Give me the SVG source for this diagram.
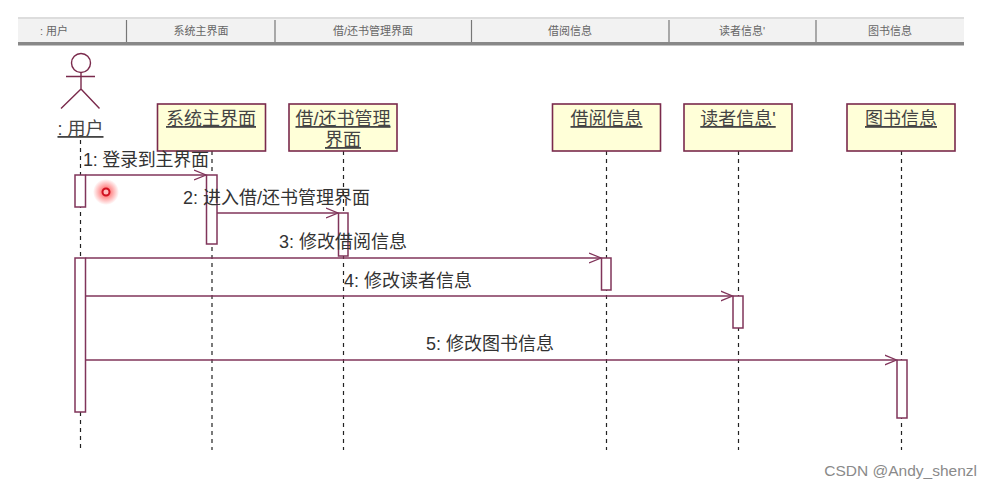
<svg xmlns="http://www.w3.org/2000/svg" width="991" height="489" viewBox="0 0 991 489">
<defs>
<marker id="arr" markerWidth="14" markerHeight="12" refX="12" refY="6" orient="auto" markerUnits="userSpaceOnUse"><path d="M0 1L12 6L0 11" fill="none" stroke="#80345a" stroke-width="1.3"/></marker>
<radialGradient id="glow"><stop offset="0.25" stop-color="#f55" stop-opacity=".8"/><stop offset="1" stop-color="#f55" stop-opacity="0"/></radialGradient>
</defs>
<style>
text{font-family:"Liberation Sans","Noto Sans CJK SC",sans-serif}
.h{font-size:11px;fill:#666;text-anchor:middle}
.n{font-size:18px;fill:#444;text-anchor:middle;text-decoration:underline}
.m{font-size:18px;fill:#333}
.box{fill:#ffffd8;stroke:#7a2a4c;stroke-width:1.6}
.act{fill:#fff;stroke:#80345a;stroke-width:1.5}
.life{stroke:#222;stroke-width:1.2;stroke-dasharray:4 4;fill:none}
.msg{stroke:#80345a;stroke-width:1.4;fill:none;marker-end:url(#arr)}
.sep{stroke:#777;stroke-width:1.2}
.fig{stroke:#7a2a4c;stroke-width:1.4;fill:none}
</style>
<rect width="991" height="489" fill="#fff"/>
<g id="header">
<rect x="18" y="18" width="946" height="24" fill="#f2f2f2"/>
<rect x="18" y="17" width="946" height="2" fill="#ddd"/>
<rect x="18" y="42" width="946" height="3.5" fill="#888"/>
<line class="sep" x1="126.500" y1="20" x2="126.500" y2="42"/>
<line class="sep" x1="275" y1="20" x2="275" y2="42"/>
<line class="sep" x1="471.500" y1="20" x2="471.500" y2="42"/>
<line class="sep" x1="669" y1="20" x2="669" y2="42"/>
<line class="sep" x1="816" y1="20" x2="816" y2="42"/>
<text class="h" x="54" y="35">: 用户</text>
<text class="h" x="201" y="35">系统主界面</text>
<text class="h" x="373" y="35">借/还书管理界面</text>
<text class="h" x="570" y="35">借阅信息</text>
<text class="h" x="742" y="35">读者信息'</text>
<text class="h" x="890" y="35">图书信息</text>
</g>
<g id="connectors">
<line class="life" x1="80.500" y1="140" x2="80.500" y2="450"/>
<line class="life" x1="212" y1="151" x2="212" y2="450"/>
<line class="life" x1="343.500" y1="151" x2="343.500" y2="450"/>
<line class="life" x1="606.500" y1="151" x2="606.500" y2="450"/>
<line class="life" x1="738.500" y1="151" x2="738.500" y2="450"/>
<line class="life" x1="901.500" y1="151" x2="901.500" y2="450"/>
</g>
<g id="actor-user">
<circle class="fig" cx="81" cy="63" r="9.500"/>
<path class="fig" d="M66 76.500H95M81 72.500V89M81 89L61 108.500M81 89L99.500 108.500"/>
<text class="n" x="80.500" y="135">: 用户</text>
</g>
<g id="node-main"><rect class="box" x="157.500" y="104" width="108" height="47"/><text class="n" x="211" y="125">系统主界面</text></g>
<g id="node-manage"><rect class="box" x="289" y="104" width="108" height="47"/><text class="n" x="343" y="125">借/还书管理</text><text class="n" x="343" y="146">界面</text></g>
<g id="node-borrow"><rect class="box" x="552.500" y="104" width="108" height="47"/><text class="n" x="606.500" y="125">借阅信息</text></g>
<g id="node-reader"><rect class="box" x="684" y="104" width="108" height="47"/><text class="n" x="738" y="125">读者信息'</text></g>
<g id="node-book"><rect class="box" x="847" y="104" width="108" height="47"/><text class="n" x="901" y="125">图书信息</text></g>
<g id="activations">
<rect class="act" x="75" y="175" width="10.500" height="32"/>
<rect class="act" x="206.500" y="175" width="10.500" height="69"/>
<rect class="act" x="338.500" y="213" width="9.500" height="43"/>
<rect class="act" x="75" y="258" width="10.500" height="154"/>
<rect class="act" x="601.500" y="258" width="9.500" height="32"/>
<rect class="act" x="733" y="296" width="10" height="32"/>
<rect class="act" x="897" y="360" width="10" height="58"/>
</g>
<g id="messages">
<line class="msg" x1="85.500" y1="175" x2="206" y2="175"/>
<line class="msg" x1="217" y1="213" x2="338" y2="213"/>
<line class="msg" x1="85.500" y1="258" x2="601" y2="258"/>
<line class="msg" x1="85.500" y1="296" x2="732.500" y2="296"/>
<line class="msg" x1="85.500" y1="360" x2="896.500" y2="360"/>
<text class="m" x="83" y="166" textLength="126">1: 登录到主界面</text>
<text class="m" x="183" y="204">2: 进入借/还书管理界面</text>
<text class="m" x="279" y="248">3: 修改借阅信息</text>
<text class="m" x="344" y="287">4: 修改读者信息</text>
<text class="m" x="426" y="350">5: 修改图书信息</text>
</g>
<g id="cursor">
<circle cx="106" cy="192" r="13" fill="url(#glow)"/>
<circle cx="106" cy="192" r="3.500" fill="#fbb" stroke="#d01020" stroke-width="2"/>
</g>
<text x="977" y="476" font-size="15.500" fill="#8a8a8a" text-anchor="end">CSDN @Andy_shenzl</text>
</svg>
